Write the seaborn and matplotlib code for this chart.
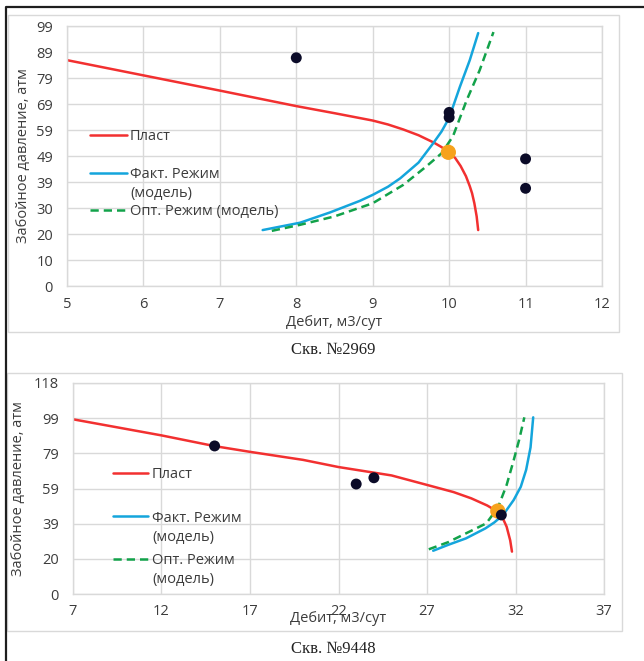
import numpy as np
import pandas as pd
import matplotlib
matplotlib.use("Agg")
import matplotlib.pyplot as plt
import seaborn as sns
from matplotlib.lines import Line2D
from matplotlib.patches import Rectangle
from matplotlib.legend import Legend

# ---------------- data: well 2969 ----------------
w1_plast_q = [5, 6, 7, 8, 8.5, 9, 9.2, 9.4, 9.6, 9.8, 9.9, 10, 10.08, 10.15, 10.22, 10.27, 10.3, 10.33, 10.36, 10.38]
w1_plast_p = [86, 80.2, 74.4, 68.5, 65.8, 63.0, 61.5, 59.6, 57.4, 54.6, 52.9, 51.0, 48.7, 45.7, 41.8, 38.0, 35.3, 31.5, 26.5, 21.3]
w1_fact_q = [7.56, 8.05, 8.44, 8.83, 9.0, 9.2, 9.36, 9.6, 9.79, 9.9, 10.0, 10.14, 10.27, 10.38]
w1_fact_p = [21.3, 24.1, 28.0, 32.4, 34.7, 37.8, 41.0, 47.0, 54.3, 58.8, 64.0, 75.8, 86.0, 96.3]
w1_opt_q = [7.68, 8.05, 8.5, 9.0, 9.4, 9.7, 9.9, 10.05, 10.23, 10.4, 10.58]
w1_opt_p = [21.0, 23.3, 26.5, 31.5, 38.5, 45.5, 50.5, 57.0, 70.8, 82.2, 96.7]
w1_meas_q = [8, 10, 10, 11, 11]
w1_meas_p = [86.9, 66.1, 64.2, 48.4, 37.2]
w1_work_q = [9.99]
w1_work_p = [50.9]
w1_xticks = [5, 6, 7, 8, 9, 10, 11, 12]
w1_ylabels = ["0", "10", "20", "30", "39", "49", "59", "69", "79", "89", "99"]
w1_ymax = 99

# ---------------- data: well 9448 ----------------
w2_plast_q = [7, 12, 15, 17, 20, 22, 25, 27, 28.5, 29.5, 30.4, 31.0, 31.3, 31.5, 31.7, 31.8]
w2_plast_p = [97.7, 88.7, 82.7, 79.5, 75.0, 71.0, 66.3, 61.0, 57.0, 53.5, 49.5, 46.0, 42.0, 37.6, 30.0, 23.7]
w2_fact_q = [27.35, 28.2, 29.2, 30.3, 30.8, 31.3, 31.9, 32.3, 32.6, 32.85, 33.0]
w2_fact_p = [24.2, 27.5, 31.1, 36.7, 40.0, 44.2, 52.6, 60.0, 69.4, 82.0, 98.8]
w2_opt_q = [27.1, 28.2, 29.2, 30.35, 30.7, 31.1, 31.5, 31.9, 32.2, 32.5]
w2_opt_p = [25.0, 29.0, 33.9, 39.5, 44.2, 50.7, 61.0, 74.9, 86.0, 98.8]
w2_meas_q = [15, 23.0, 24.0, 31.2]
w2_meas_p = [82.8, 61.5, 65.0, 44.2]
w2_work_q = [31.0]
w2_work_p = [46.4]
w2_xticks = [7, 12, 17, 22, 27, 32, 37]
w2_ylabels = ["0", "20", "39", "59", "79", "99", "118"]
w2_ymax = 118

series_names = ["Пласт", "Факт. Режим\n(модель)", "Опт. Режим (модель)"]
series_names2 = ["Пласт", "Факт. Режим\n(модель)", "Опт. Режим\n(модель)"]
xlabel = "Дебит, м3/сут"
ylabel = "Забойное давление, атм"
captions = ["Скв. №2969", "Скв. №9448"]

# ---------------- style ----------------
sns.set_theme(style="white")
plt.rcParams["font.family"] = ["Open Sans", "DejaVu Sans"]
TXT = "#3c3c3c"
RED = "#f23030"
BLUE = "#14a5dc"
GREEN = "#12a24a"
DARK = "#0b0b28"
ORANGE = "#f6a21c"
GRID = "#d9d9d9"
FS = 10.5
LW = 1.8

W, H = 644, 661
fig = plt.figure(figsize=(W / 100, H / 100), dpi=100)


def px_rect(l, t, r, b):
    return [l / W, 1 - b / H, (r - l) / W, (b - t) / H]


def draw_chart(ax, plast, fact, opt, meas, work, xticks, ylabels, ymax):
    d_pl = pd.DataFrame({"q": plast[0], "p": plast[1]})
    d_fa = pd.DataFrame({"q": fact[0], "p": fact[1]})
    d_op = pd.DataFrame({"q": opt[0], "p": opt[1]})
    sns.lineplot(data=d_pl, x="q", y="p", ax=ax, sort=False, estimator=None,
                 color=RED, lw=LW)
    sns.lineplot(data=d_fa, x="q", y="p", ax=ax, sort=False, estimator=None,
                 color=BLUE, lw=LW)
    sns.lineplot(data=d_op, x="q", y="p", ax=ax, sort=False, estimator=None,
                 color=GREEN, lw=LW)
    ax.lines[2].set_dashes([3.3, 2.0])
    for ln in ax.lines[:3]:
        ln.set_solid_joinstyle("round")
        ln.set_dash_joinstyle("round")
    sns.scatterplot(x=work[0], y=work[1], ax=ax, color=ORANGE, s=120,
                    edgecolor="none", zorder=5)
    sns.scatterplot(x=meas[0], y=meas[1], ax=ax, color=DARK, s=62,
                    edgecolor="none", zorder=6)
    ax.set_xlim(xticks[0], xticks[-1])
    ax.set_ylim(0, ymax)
    ax.set_xticks(xticks)
    ax.set_xticklabels([str(t) for t in xticks])
    ax.set_yticks(np.linspace(0, ymax, len(ylabels)))
    ax.set_yticklabels(ylabels)
    ax.grid(True, color=GRID, lw=1.0)
    ax.set_axisbelow(True)
    for s in ax.spines.values():
        s.set_color(GRID)
        s.set_linewidth(1.0)
    ax.set_xlabel("")
    ax.set_ylabel("")
    ax.tick_params(axis="both", length=0, labelsize=FS, labelcolor=TXT)
    return ax.lines[:3]


def add_legend(ax, handles, labels, x_handle, x_text, rows, hl_px):
    fs_px = FS * 100 / 72
    for h, lab, ys in zip(handles, labels, rows):
        parts = lab.split("\n")
        leg = Legend(ax, [h], [parts[0]], loc="center left",
                     bbox_to_anchor=(x_handle / W, 1 - ys[0] / H),
                     bbox_transform=fig.transFigure, frameon=False,
                     borderpad=0, borderaxespad=0, handlelength=hl_px / fs_px,
                     handletextpad=(x_text - x_handle - hl_px) / fs_px,
                     fontsize=FS, labelcolor=TXT)
        ax.add_artist(leg)
        for extra, y in zip(parts[1:], ys[1:]):
            fig.text(x_text / W, 1 - y / H, extra, fontsize=FS, color=TXT,
                     ha="left", va="center")


# chart-area frames
fig.add_artist(Rectangle((8 / W, 1 - 332 / H), (619 - 8) / W, (332 - 15) / H,
                         transform=fig.transFigure, fill=False, ec=GRID, lw=1.0))
fig.add_artist(Rectangle((7 / W, 1 - 631 / H), (622 - 7) / W, (631 - 373) / H,
                         transform=fig.transFigure, fill=False, ec=GRID, lw=1.0))
# outer black border (left and top)
fig.add_artist(Line2D([6 / W, 6 / W, 1.0], [0.0, 1 - 7 / H, 1 - 7 / H],
                      transform=fig.transFigure, color="#1e1e1e", lw=1.6))

# ---------- chart 1 ----------
ax1 = fig.add_axes(px_rect(67, 26, 602, 286))
h1 = draw_chart(ax1, (w1_plast_q, w1_plast_p), (w1_fact_q, w1_fact_p),
                (w1_opt_q, w1_opt_p), (w1_meas_q, w1_meas_p),
                (w1_work_q, w1_work_p), w1_xticks, w1_ylabels, w1_ymax)
ax1.tick_params(axis="y", pad=10)
ax1.tick_params(axis="x", pad=8)
ax1.text(0.5, (286 - 322) / 260, xlabel, transform=ax1.transAxes,
         ha="center", va="center", fontsize=FS, color=TXT)
ax1.text((24 - 67) / 535, 0.5, ylabel, transform=ax1.transAxes, rotation=90,
         ha="center", va="center", fontsize=FS, color=TXT)
add_legend(ax1, h1, series_names, 90, 130,
           [(137,), (175, 193), (212,)], 37)
fig.text(333 / W, 1 - 350 / H, captions[0], ha="center", va="center",
         fontsize=12, color="#222222", family=["Liberation Serif", "DejaVu Serif"])

# ---------- chart 2 ----------
ax2 = fig.add_axes(px_rect(73, 383, 604, 594))
h2 = draw_chart(ax2, (w2_plast_q, w2_plast_p), (w2_fact_q, w2_fact_p),
                (w2_opt_q, w2_opt_p), (w2_meas_q, w2_meas_p),
                (w2_work_q, w2_work_p), w2_xticks, w2_ylabels, w2_ymax)
ax2.tick_params(axis="y", pad=10)
ax2.tick_params(axis="x", pad=7)
ax2.text(0.5, (594 - 619) / 211, xlabel, transform=ax2.transAxes,
         ha="center", va="center", fontsize=FS, color=TXT)
ax2.text((19 - 73) / 531, 0.5, ylabel, transform=ax2.transAxes, rotation=90,
         ha="center", va="center", fontsize=FS, color=TXT)
add_legend(ax2, h2, series_names2, 113, 152,
           [(475,), (518, 537), (561, 579)], 35)
fig.text(333 / W, 1 - 649 / H, captions[1], ha="center", va="center",
         fontsize=12, color="#222222", family=["Liberation Serif", "DejaVu Serif"])

fig.savefig("out.png", dpi=100)
